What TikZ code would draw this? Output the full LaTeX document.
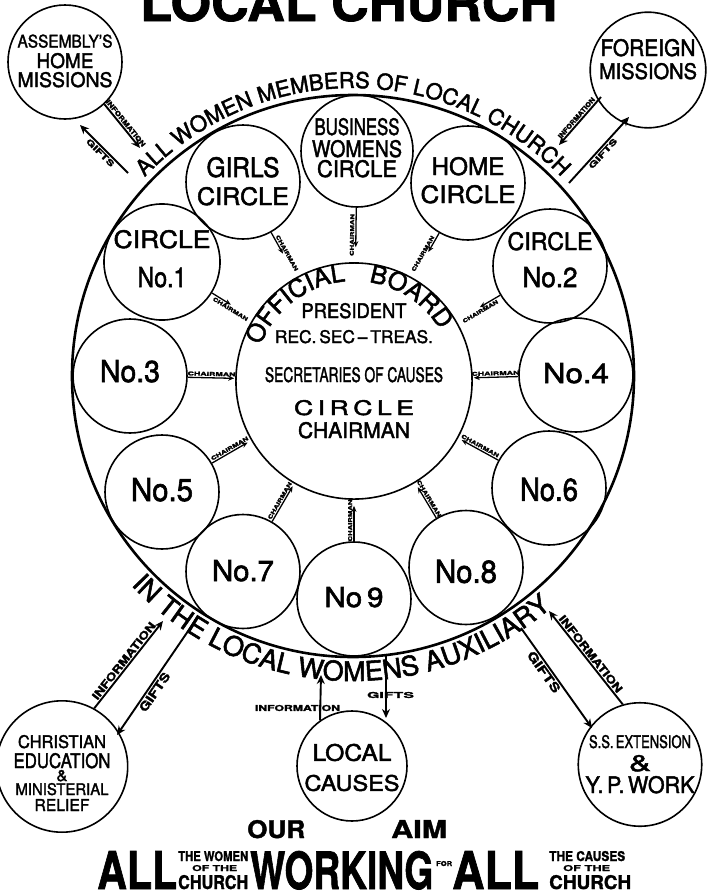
\documentclass[tikz,border=0pt]{standalone}
\usepackage{fontspec}
\setmainfont{TeX Gyre Heros}[FakeBold=2]
\newfontfamily\heavy{TeX Gyre Heros Bold}[FakeBold=1.5]
\usetikzlibrary{calc,arrows.meta,decorations.text}
\newcommand\fitt[3]{\resizebox{#1pt}{#2pt}{#3}}
\newcommand\dstrut[1]{\rule[-#1pt]{0pt}{#1pt}}
\newcommand\hstrut[1]{\rule{0pt}{#1pt}}
\newcommand\arcfontA{\fontsize{22}{22}\selectfont}
\newcommand\arcfontB{\fontsize{27}{27}\selectfont}
\newcommand\arcfontC{\fontsize{25}{25}\selectfont}
\begin{document}
\begin{tikzpicture}[x=1pt,y=1pt,
  ring/.style={draw, circle, line width=1.6pt, inner sep=0pt, minimum size=114pt, align=center},
  carrow/.style={line width=1.3pt, -{Stealth[length=6pt,width=5pt]}},
  oarrow/.style={line width=1.9pt, -{Stealth[length=9pt,width=8pt]}},
  lbl/.style={sloped, inner sep=1.2pt},
  txt/.style={inner sep=0pt, anchor=base west}
]
\useasboundingbox (0,0) rectangle (708,-895);

% title
\node[txt] (title) at (140,-21) {\fitt{417}{37}{\heavy LOCAL CHURCH}};

% big circle
\node[draw, circle, line width=2.6pt, inner sep=0pt, minimum size=562pt] (big) at (353,-376) {};

% outer circles
\node[ring, font=\fontsize{13}{20.5}\selectfont] (asm) at (65,-62)
  {\fitt{95}{13}{ASSEMBLY’S}\\\fitt{57}{15}{HOME}\\[-1.5pt]\fitt{95}{15}{MISSIONS}\dstrut{2.5}};
\node[ring, font=\fontsize{17}{23}\selectfont] (for) at (648,-70)
  {\fitt{95}{17}{FOREIGN}\\\fitt{98}{16}{MISSIONS}\dstrut{22}};
\node[ring, font=\fontsize{13}{20}\selectfont] (chr) at (62,-766.5)
  {\hstrut{26}\fitt{88}{13}{CHRISTIAN}\\\fitt{97}{15}{EDUCATION}\\[-7pt]\fitt{11}{11}{\&}\\[-6pt]\fitt{93}{12}{MINISTERIAL}\\[-4pt]\fitt{55}{12}{RELIEF}};
\node[ring, minimum size=110pt, font=\fontsize{17}{30}\selectfont] (loc) at (352,-766)
  {\hstrut{20}\fitt{79}{17}{LOCAL}\\\fitt{95}{16}{CAUSES}};
\node[ring, font=\fontsize{13}{23}\selectfont] (ss) at (640,-764.5)
  {\fitt{102}{13}{S.S.\,EXTENSION}\\\fitt{22}{16}{\&}\\[-1pt]\fitt{109}{17}{Y.\,P.\,WORK}\dstrut{1}};

% inner circles
\node[ring, font=\fontsize{20}{28}\selectfont] (girls) at (243,-182)
  {\fitt{73}{20}{GIRLS}\\\fitt{92}{18}{CIRCLE}\dstrut{2}};
\node[ring, minimum size=112pt, font=\fontsize{17}{22}\selectfont] (bus) at (357,-151)
  {\fitt{85}{17}{BUSINESS}\\\fitt{90}{17}{WOMENS}\\[-2pt]\fitt{80}{17}{CIRCLE}\dstrut{7}};
\node[ring, font=\fontsize{18}{28}\selectfont] (home) at (468,-183)
  {\fitt{73}{18}{HOME}\\\fitt{95}{18}{CIRCLE}\dstrut{6}};
\node[ring, font=\fontsize{18}{39}\selectfont] (c1) at (162,-262)
  {\fitt{97}{18}{CIRCLE}\\\fitt{49}{20}{No.1}\dstrut{7}};
\node[ring, font=\fontsize{18}{37}\selectfont] (c2) at (550,-266)
  {\fitt{85}{18}{CIRCLE}\\\fitt{55}{20}{No.2}\dstrut{13}};
\node[ring] (n3) at (130,-376) {\fitt{60}{22}{No.3}\dstrut{10}};
\node[ring] (n4) at (576,-375) {\fitt{66}{20}{No.4}\dstrut{4}};
\node[ring] (n5) at (162,-492) {\fitt{62}{23}{No.5}\dstrut{5}};
\node[ring] (n6) at (549,-488) {\hstrut{26}\fitt{58}{23}{No.6}};
\node[ring] (n7) at (243,-571.5) {\fitt{62}{21}{No.7}\dstrut{2}};
\node[ring] (n9) at (354,-599) {\fitt{59}{20}{No\,9}\dstrut{4}};
\node[ring] (n8) at (466,-567.5) {\hstrut{31}\fitt{62}{23}{No.8}};

% central circle
\node[ring, minimum size=186pt, font=\fontsize{15}{25}\selectfont] (ctr) at (354,-381)
  {\fitt{105}{15}{PRESIDENT}\\\fitt{158}{13}{REC.\,SEC\,–\,TREAS.}\\[14pt]\fitt{178}{15}{SECRETARIES OF CAUSES}\\[8pt]\fitt{120}{15}{C\kern2.5pt I\kern2.5pt R\kern2.5pt C\kern2.5pt L\kern2.5pt E}\\[-2pt]\fitt{112}{16}{CHAIRMAN}\dstrut{21}};

% arc texts
\path[decorate, decoration={text along path, text align=center, text={|\arcfontA|ALL WOMEN MEMBERS OF LOCAL CHURCH}}]
  ($(big.center)+(140:288pt)$) arc[start angle=140, end angle=40, radius=288pt];
\path[decorate, decoration={text along path, text align=center, text={|\arcfontB|IN THE LOCAL WOMENS AUXILIARY}}]
  ($(big.center)+(220:305pt)$) arc[start angle=220, end angle=314, radius=305pt];
\path[decorate, decoration={text along path, text align=center, text={|\arcfontC|OFFICIAL}}]
  ($(ctr.center)+(162:100pt)$) arc[start angle=162, end angle=92, radius=100pt];
\path[decorate, decoration={text along path, text align=center, text={|\arcfontC|BOARD}}]
  ($(ctr.center)+(85:100pt)$) arc[start angle=85, end angle=27, radius=100pt];

% chairman arrows
\draw[carrow, shorten >=27pt] (girls) -- node[lbl, above]{\fitt{40}{4}{\bfseries CHAIRMAN}} (ctr);
\draw[carrow, shorten >=15pt] (bus) -- node[lbl, above]{\fitt{42}{4}{\bfseries CHAIRMAN}} (ctr);
\draw[carrow, shorten >=30pt] (home) -- node[lbl, above]{\fitt{40}{4}{\bfseries CHAIRMAN}} (ctr);
\draw[carrow, shorten >=26pt] (c1) -- node[lbl, below]{\fitt{40}{4}{\bfseries CHAIRMAN}} (ctr);
\draw[carrow, shorten >=27pt] (c2) -- node[lbl, below]{\fitt{40}{4}{\bfseries CHAIRMAN}} (ctr);
\draw[carrow, shorten >=1pt] (n3) -- node[lbl, above]{\fitt{48}{4}{\bfseries CHAIRMAN}} (ctr);
\draw[carrow, shorten >=1pt] (n4) -- node[lbl, above]{\fitt{48}{4}{\bfseries CHAIRMAN}} (ctr);
\draw[carrow, shorten >=4pt] (n5) -- node[lbl, above]{\fitt{42}{4}{\bfseries CHAIRMAN}} (ctr);
\draw[carrow, shorten >=4pt] (n6) -- node[lbl, above]{\fitt{42}{4}{\bfseries CHAIRMAN}} (ctr);
\draw[carrow, shorten >=3pt] (n7) -- node[lbl, above]{\fitt{42}{4}{\bfseries CHAIRMAN}} (ctr);
\draw[carrow, shorten >=6pt] (n9) -- node[lbl, above]{\fitt{42}{4}{\bfseries CHAIRMAN}} (ctr);
\draw[carrow, shorten >=5pt] (n8) -- node[lbl, above]{\fitt{42}{4}{\bfseries CHAIRMAN}} (ctr);

% outer connector end points on the ring text
\coordinate (asmI) at (140,-148);
\coordinate (asmGs) at (128,-173);
\coordinate (asmGe) at (80,-125);
\coordinate (forIs) at (601,-97);
\coordinate (forIe) at (559,-145);
\coordinate (forGs) at (569,-183);
\coordinate (forGe) at (629,-117);
\coordinate (chrI) at (163,-621);
\coordinate (chrGs) at (197,-618);
\coordinate (chrGe) at (117,-735);
\coordinate (locI) at (321,-675);
\coordinate (locGs) at (386,-655);
\coordinate (locGe) at (386,-718);
\coordinate (ssI) at (549,-611);
\coordinate (ssGs) at (521,-628);
\coordinate (ssGe) at (592,-728);

\draw[oarrow] (asm.-47) -- node[lbl, above]{\fitt{58}{5}{\bfseries INFORMATION}} (asmI);
\draw[oarrow] (asmGs) -- node[lbl, below]{\fitt{36}{6}{\bfseries GIFTS}} (asmGe);
\draw[oarrow] (forIs) -- node[lbl, above]{\fitt{52}{5}{\bfseries INFORMATION}} (forIe);
\draw[oarrow] (forGs) -- node[lbl, below]{\fitt{38}{6}{\bfseries GIFTS}} (forGe);
\draw[oarrow] (chr.61) -- node[lbl, above]{\fitt{95}{8}{\bfseries INFORMATION}} (chrI);
\draw[oarrow] (chrGs) -- node[lbl, below, pos=0.6]{\fitt{45}{9}{\bfseries GIFTS}} (chrGe);
\draw[oarrow] (loc.125) -- (locI);
\node[inner sep=0pt] (locIl) at (297.5,-708) {\fitt{85}{6}{\bfseries INFORMATION}};
\draw[oarrow] (locGs) -- (locGe);
\node[inner sep=0pt] (locGl) at (390.5,-695) {\fitt{47}{6}{\bfseries GIFTS}};
\draw[oarrow] (ss.106) -- node[lbl, above]{\fitt{95}{8}{\bfseries INFORMATION}} (ssI);
\draw[oarrow] (ssGs) -- node[lbl, below, pos=0.4]{\fitt{48}{9}{\bfseries GIFTS}} (ssGe);

% bottom slogan
\node[txt] (our) at (247,-838) {\fitt{58}{18}{\heavy OUR}};
\node[txt] (aim) at (391,-838) {\fitt{56}{18}{\heavy AIM}};
\node[txt] (allA) at (97,-889) {\fitt{80}{38}{\heavy ALL}};
\node[txt] (womenA) at (178,-861) {\fitt{70}{10}{\heavy THE WOMEN}};
\node[txt] (oftheA) at (192,-871) {\fitt{45}{6}{\heavy OF THE}};
\node[txt] (churchA) at (178,-889) {\fitt{70}{14}{\heavy CHURCH}};
\node[txt] (working) at (250,-889) {\fitt{183}{38}{\heavy WORKING}};
\node[txt] (forw) at (436,-866) {\fitt{16}{5}{\heavy FOR}};
\node[txt] (allB) at (452,-889) {\fitt{87}{38}{\heavy ALL}};
\node[txt] (causesB) at (549,-861) {\fitt{76}{10}{\heavy THE CAUSES}};
\node[txt] (oftheB) at (563,-871) {\fitt{47}{6}{\heavy OF THE}};
\node[txt] (churchB) at (549,-889) {\fitt{82}{14}{\heavy CHURCH}};
\end{tikzpicture}
\end{document}
